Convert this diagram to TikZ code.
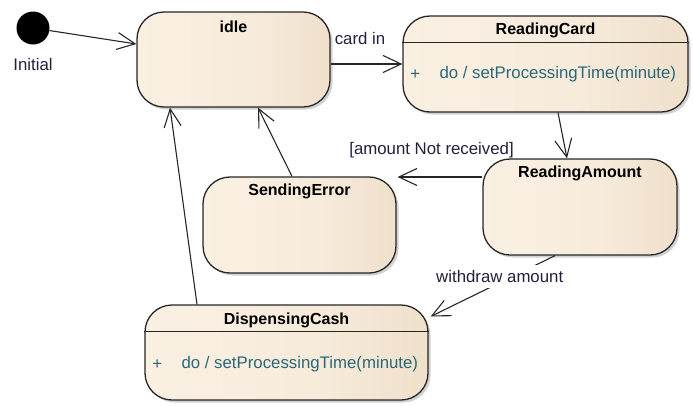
\documentclass[tikz,border=0pt]{standalone}
\usepackage{fontspec}
\setmainfont{Liberation Sans}
\usetikzlibrary{arrows.meta,shadows}

\definecolor{stL}{HTML}{FCF4E8}
\definecolor{stM}{HTML}{F7EBDB}
\definecolor{stR}{HTML}{E6D2B8}
\definecolor{edgecol}{HTML}{262626}
\definecolor{lblcol}{HTML}{22203A}
\definecolor{opcol}{HTML}{2A6878}
\pgfdeclarehorizontalshading{statefill}{100bp}{color(0bp)=(stL); color(55bp)=(stM); color(100bp)=(stR)}

\tikzset{
  statebox/.style={draw=black!85, line width=1.3pt, rounded corners=27pt,
    shading=statefill, inner sep=0pt,
    drop shadow={shadow xshift=2.5pt, shadow yshift=-2.5pt, opacity=0.25, fill=black!70}},
  titletext/.style={font=\fontsize{16}{19}\selectfont\bfseries, text=black, inner sep=0pt},
  lbl/.style={font=\fontsize{16.8}{20}\selectfont, text=lblcol, inner sep=1pt},
  optext/.style={font=\fontsize{16.8}{20}\selectfont, text=opcol, inner sep=0pt},
  trans/.style={draw=edgecol, line width=1.1pt,
    -{Straight Barb[length=18pt, width=17pt, line width=1.1pt]}},
  divider/.style={draw=black!85, line width=1.1pt},
  initstate/.style={circle, fill=black, minimum size=33pt, inner sep=0pt}
}

\begin{document}
\begin{tikzpicture}[x=1pt, y=-1pt]
\useasboundingbox (0,0) rectangle (693,405);

% initial pseudo-state
\node[initstate] (init) at (33,28) {};
\node[lbl] (initlbl) at (33,64) {Initial};

% states
\node[statebox, minimum width=193pt, minimum height=95pt] (idle) at (233.5,59.5) {};
\node[titletext] (idleT) at ([yshift=-15pt]idle.north) {idle};

\node[statebox, minimum width=285pt, minimum height=96pt] (rc) at (545.5,64) {};
\node[titletext] (rcT) at ([yshift=-15pt]rc.north) {ReadingCard};
\draw[divider] ([yshift=-27pt]rc.north west) -- ([yshift=-27pt]rc.north east);
\node[optext] (rcP) at ([xshift=13pt, yshift=-59pt]rc.north west) {+};
\node[optext, anchor=west] (rcOp) at ([xshift=37pt, yshift=-59pt]rc.north west) {do / setProcessingTime(minute)};

\node[statebox, minimum width=194pt, minimum height=96pt] (ra) at (580,207) {};
\node[titletext] (raT) at ([yshift=-15pt]ra.north) {ReadingAmount};

\node[statebox, minimum width=193pt, minimum height=96pt] (se) at (299.5,225) {};
\node[titletext] (seT) at ([yshift=-15pt]se.north) {SendingError};

\node[statebox, minimum width=283pt, minimum height=95pt] (dc) at (286.5,352.5) {};
\node[titletext] (dcT) at ([yshift=-16pt]dc.north) {DispensingCash};
\draw[divider] ([yshift=-27pt]dc.north west) -- ([yshift=-27pt]dc.north east);
\node[optext] (dcP) at ([xshift=13pt, yshift=-60pt]dc.north west) {+};
\node[optext, anchor=west] (dcOp) at ([xshift=37pt, yshift=-60pt]dc.north west) {do / setProcessingTime(minute)};

% transitions
\draw[trans] (init) -- ([yshift=15.5pt]idle.west);
\draw[trans] (idle.east |- rc.west) -- node[lbl, pos=0.41, yshift=26pt] {card in} (rc.west);
\draw[trans] ([xshift=12.5pt]rc.south) -- ([xshift=-13pt]ra.north);
\draw[trans] ([yshift=30pt]ra.west) -- node[lbl, pos=0.6, yshift=27pt] {[amount Not received]} ([yshift=48pt, xshift=1pt]se.east);
\draw[trans] ([xshift=-7.5pt]se.north) -- ([xshift=24.5pt]idle.south);
\draw[trans] ([xshift=-25pt]ra.south) -- node[lbl, fill=white, inner xsep=2pt, inner ysep=5pt, pos=0.34, xshift=-13pt] {withdraw amount} ([xshift=2pt, yshift=36pt]dc.east);
\draw[trans] ([xshift=-89.5pt]dc.north) -- ([xshift=-63.5pt]idle.south);
\end{tikzpicture}
\end{document}
